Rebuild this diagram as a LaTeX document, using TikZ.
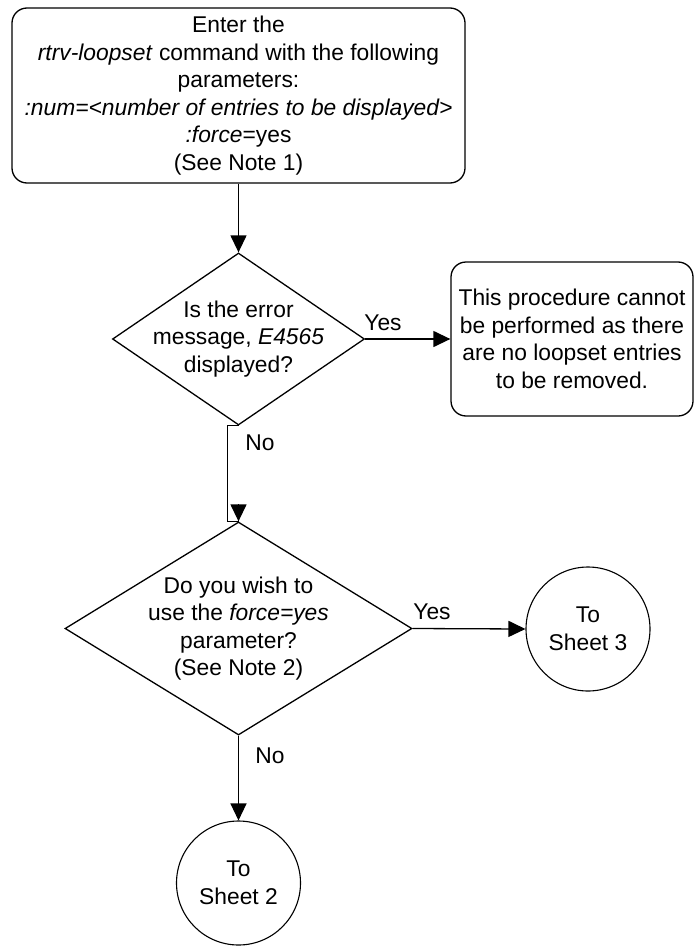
\documentclass[tikz,border=0pt]{standalone}
\usepackage{fontspec}
\setmainfont{Liberation Sans}
\usetikzlibrary{shapes.geometric,arrows.meta,calc}
\begin{document}
\begin{tikzpicture}[x=1pt,y=-1pt,
  every node/.style={font=\fontsize{22.8}{27.5}\selectfont},
  ln/.style={line width=1.3pt,draw=black},
  rbox/.style={ln,rectangle,rounded corners=15pt,align=center,inner sep=0pt},
  dshape/.style={ln,diamond,inner sep=0pt},
  txt/.style={align=center,inner sep=0pt},
  conn/.style={draw, circle, line width=1.1pt, inner sep=0pt, minimum size=124pt, align=center},
  arr/.style={line width=1.3pt,-{Triangle[length=17pt,width=16pt]}},
  plain/.style={line width=1.3pt},
  lbl/.style={inner sep=0pt}
]
\useasboundingbox (0,0) rectangle (694,947);

\node[rbox, minimum width=453pt, minimum height=175pt] (b1) at (238.5,95.5)
  {Enter the\\ \textit{rtrv-loopset} command with the following\\ parameters:\\ \textit{:num=<number of entries to be displayed>}\\ \textit{:force}=yes\\ (See Note 1)};

\node[dshape, minimum width=252pt, minimum height=172pt] (d1) at (238.5,339) {};
\node[txt] (d1t) at (d1.center) {Is the error\\ message, \textit{E4565}\\ displayed?};

\node[rbox, minimum width=242pt, minimum height=154pt] (b2) at (572,339)
  {This procedure cannot\\ be performed as there\\ are no loopset entries\\ to be removed.};

\node[dshape, minimum width=347pt, minimum height=213pt] (d2) at (238.5,628.5) {};
\node[txt] (d2t) at (d2.center) {Do you wish to\\ use the \textit{force=yes}\\ parameter?\\ (See Note 2)};

\node[conn] (c3) at (588,629) {To\\ Sheet 3};
\node[conn] (c2) at (238.5,883) {To\\ Sheet 2};

\draw[arr] (b1.south) -- (d1.north);
\draw[arr] (d1.east) -- (b2.west);
\draw[plain] (d1.south) -- ++(-11,0) |- (d2.north);
\draw[arr] ($(d2.north)+(0,-17)$) -- (d2.north);
\draw[arr] (d2.east) -- (c3.west);
\draw[arr] (d2.south) -- (c2.north);

\node[lbl] (y1) at (383,323) {Yes};
\node[lbl] (n1) at (260,443) {No};
\node[lbl] (y2) at (432,612) {Yes};
\node[lbl] (n2) at (270,756) {No};
\end{tikzpicture}
\end{document}
